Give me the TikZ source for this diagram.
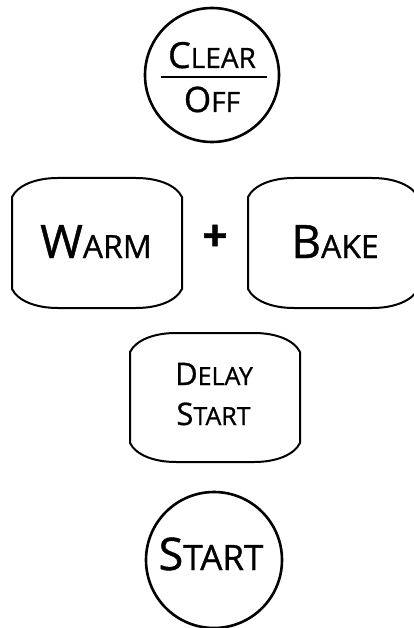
\documentclass[tikz,border=0pt]{standalone}
\usepackage{fontspec}
\setmainfont{Open Sans}[FakeBold=0.9]
% big first letter, smaller rest (small caps look)
\newcommand{\kcap}[4]{{\fontsize{#1}{#1}\selectfont #3}{\fontsize{#2}{#2}\selectfont #4}}
% outline of a key with flattened corners
\newcommand{\keyoutline}[1]{%
\draw [keyline] ([yshift=-19pt]#1.north west) .. controls +(6pt,12pt) and +(-22pt,0pt) .. ([xshift=46pt]#1.north west)
  -- ([xshift=-46pt]#1.north east) .. controls +(22pt,0pt) and +(-6pt,12pt) .. ([yshift=-19pt]#1.north east)
  -- ([yshift=19pt]#1.south east) .. controls +(-6pt,-12pt) and +(22pt,0pt) .. ([xshift=-46pt]#1.south east)
  -- ([xshift=46pt]#1.south west) .. controls +(-22pt,0pt) and +(6pt,-12pt) .. ([yshift=19pt]#1.south west)
  -- cycle;}
\begin{document}
\begin{tikzpicture}[x=1pt,y=1pt]
\tikzstyle{every node}+=[inner sep=0pt, outer sep=0pt]
\tikzstyle{roundkey}=[draw, circle, line width=2.6pt]
\tikzstyle{keybox}=[minimum width=170pt, minimum height=130pt]
\tikzstyle{keyline}=[line width=2pt]
\useasboundingbox (0,0) rectangle (414,-628);
% clear / off
\node [roundkey, minimum size=134pt] (clear) at (212,-75) {};
\node [anchor=base] (clearlbl) at (212,-68) {\kcap{36pt}{28pt}{C}{LEAR}};
\node [anchor=base] (offlbl) at (212,-112) {\kcap{35pt}{28pt}{O}{FF}};
\draw [line width=1.8pt] ([xshift=-51pt,yshift=-2pt]clear.center) -- ([xshift=55pt,yshift=-2pt]clear.center);
% warm + bake
\node [keybox] (warm) at (97,-243) {};
\keyoutline{warm}
\node [anchor=base] (warmlbl) at (96,-258) {\kcap{46pt}{32pt}{W}{ARM}};
\node (plus) at (215,-238) {\fontsize{44pt}{44pt}\selectfont\bfseries +};
\node [keybox] (bake) at (333,-243) {};
\keyoutline{bake}
\node [anchor=base] (bakelbl) at (335,-258) {\kcap{46pt}{32pt}{B}{AKE}};
% delay start
\node [keybox, minimum height=129pt] (delay) at (215,-397.5) {};
\keyoutline{delay}
\node [anchor=base] (delaylbl) at (214,-385) {\kcap{31pt}{25pt}{D}{ELAY}};
\node [anchor=base] (dstartlbl) at (213.5,-425) {\kcap{31pt}{25pt}{S}{TART}};
% start
\node [roundkey, minimum size=136pt] (start) at (214,-560) {};
\node [anchor=base] (startlbl) at (211,-570) {\kcap{45pt}{35pt}{S}{TART}};
\end{tikzpicture}
\end{document}
